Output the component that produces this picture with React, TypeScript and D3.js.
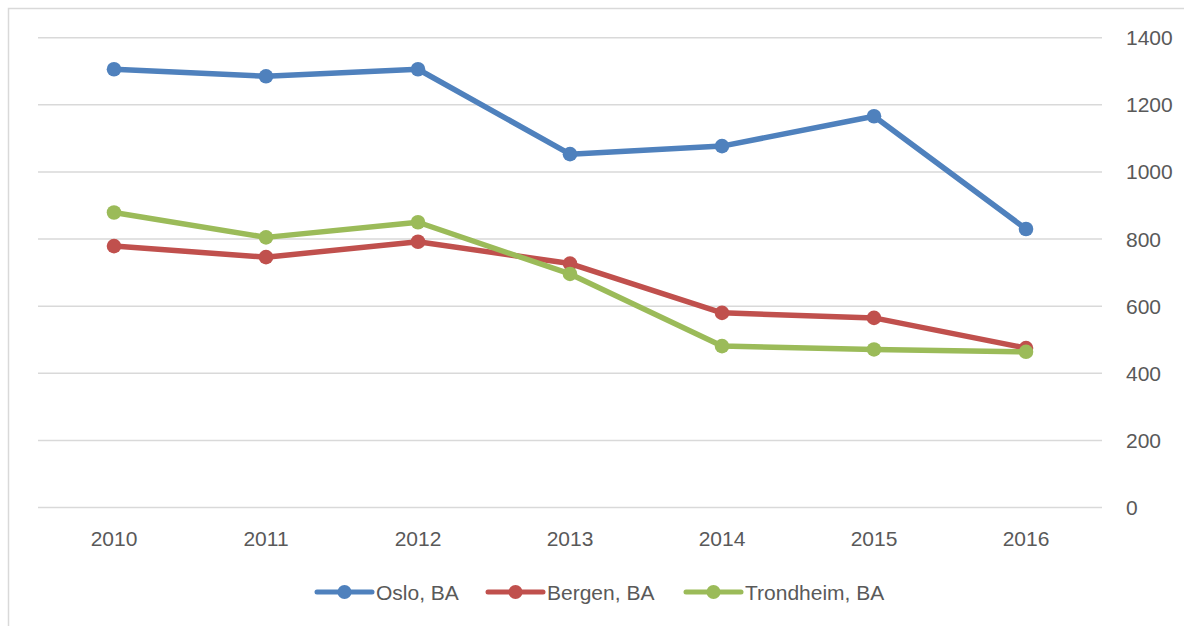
import React from "react";
import * as d3 from "d3";

const years = ["2010", "2011", "2012", "2013", "2014", "2015", "2016"];
const oslo = [1306, 1285, 1306, 1053, 1077, 1166, 830];
const bergen = [779, 746, 792, 727, 580, 565, 475];
const trondheim = [879, 805, 850, 696, 481, 471, 464];
const yTicks = [0, 200, 400, 600, 800, 1000, 1200, 1400];
const seriesNames = ["Oslo, BA", "Bergen, BA", "Trondheim, BA"];
const seriesColors = ["#4f81bd", "#c0504d", "#9bbb59"];

export default function App() {
  const left = 38;
  const right = 1102;
  const top = 37.7;
  const bottom = 507.5;
  const font = "'Liberation Sans', Arial, sans-serif";
  const textColor = "#595959";

  const x = d3.scaleBand<string>().domain(years).range([left, right]).padding(0);
  const cx = (c: string) => (x(c) as number) + x.bandwidth() / 2;
  const y = d3.scaleLinear().domain([0, 1400]).range([bottom, top]);

  const series = [oslo, bergen, trondheim];
  const line = d3
    .line<number>()
    .x((_, i) => cx(years[i]))
    .y((d) => y(d));

  const legendItems = [
    { lx: 317, tx: 376 },
    { lx: 488, tx: 547 },
    { lx: 686, tx: 745 },
  ];
  const legendY = 592;

  return (
    <svg
      width={1184}
      height={626}
      style={{ position: "absolute", left: 0, top: 0, background: "#fff" }}
    >
      <rect x={0} y={0} width={1184} height={626} fill="#fff" />
      <rect
        x={8.5}
        y={8.5}
        width={1200}
        height={650}
        fill="#fff"
        stroke="#d9d9d9"
        strokeWidth={1.5}
      />
      {yTicks.map((t) => (
        <g key={t}>
          <line
            x1={left}
            x2={right}
            y1={y(t)}
            y2={y(t)}
            stroke="#d9d9d9"
            strokeWidth={1.5}
          />
          <text
            x={1126}
            y={y(t)}
            dy="0.36em"
            fontFamily={font}
            fontSize={21}
            fill={textColor}
          >
            {t}
          </text>
        </g>
      ))}
      {years.map((c) => (
        <text
          key={c}
          x={cx(c)}
          y={538.5}
          dy="0.36em"
          textAnchor="middle"
          fontFamily={font}
          fontSize={21}
          fill={textColor}
        >
          {c}
        </text>
      ))}
      {series.map((s, si) => (
        <g key={si}>
          <path
            d={line(s) as string}
            fill="none"
            stroke={seriesColors[si]}
            strokeWidth={5.5}
            strokeLinejoin="round"
            strokeLinecap="round"
          />
          {s.map((v, i) => (
            <circle
              key={i}
              cx={cx(years[i])}
              cy={y(v)}
              r={7.3}
              fill={seriesColors[si]}
            />
          ))}
        </g>
      ))}
      {legendItems.map((it, i) => (
        <g key={i}>
          <line
            x1={it.lx}
            x2={it.lx + 55}
            y1={legendY}
            y2={legendY}
            stroke={seriesColors[i]}
            strokeWidth={5}
            strokeLinecap="round"
          />
          <circle cx={it.lx + 27.5} cy={legendY} r={7} fill={seriesColors[i]} />
          <text
            x={it.tx}
            y={legendY}
            dy="0.36em"
            fontFamily={font}
            fontSize={21}
            fill={textColor}
          >
            {seriesNames[i]}
          </text>
        </g>
      ))}
    </svg>
  );
}
